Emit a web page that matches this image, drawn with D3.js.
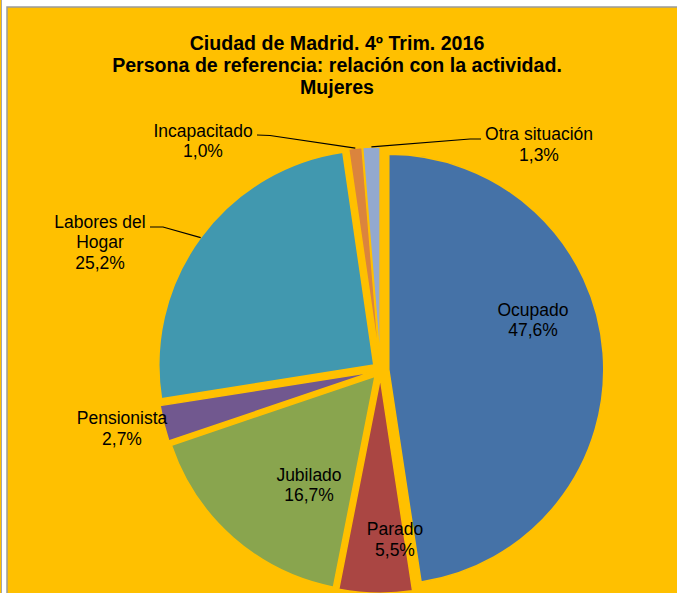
<!DOCTYPE html>
<html>
<head>
    <script src="https://cdn.jsdelivr.net/npm/d3@7"></script>
    <style>
        html, body {
            padding: 0;
            margin: 0;
            background: #ffffff;
        }
    </style>
</head>
<body>
<script>
    var width = 677, height = 593;

    // data
    var categories = ["Ocupado", "Parado", "Jubilado", "Pensionista", "Labores del Hogar", "Incapacitado", "Otra situación"];
    var values = [47.6, 5.5, 16.7, 2.7, 25.2, 1.0, 1.3];
    var labelLines = [["Ocupado"], ["Parado"], ["Jubilado"], ["Pensionista"], ["Labores del", "Hogar"], ["Incapacitado"], ["Otra situación"]];
    var titleLines = ["Ciudad de Madrid. 4º Trim. 2016", "Persona de referencia: relación con la actividad.", "Mujeres"];

    var colors = ["#4572A7", "#AA4643", "#89A54E", "#71588F", "#4198AF", "#DB843D", "#93A9CF"];

    // label layout (x centre, baseline of first line, leader elbow if any)
    var labelLayout = [
        {x: 533, y: 315.5},
        {x: 395, y: 535},
        {x: 309, y: 480.5},
        {x: 122, y: 424},
        {x: 100, y: 227.5, elbow: [163, 227], anchor: [150, 227]},
        {x: 203, y: 136.5, elbow: [270, 135.5], anchor: [257, 135]},
        {x: 539, y: 140, elbow: [470, 139], anchor: [481, 139]}
    ];

    var cx = 380.5, cy = 370, radius = 215, explode = 8.3;
    var orange = "#FFC000";

    var svg = d3.select("body").append("svg")
        .attr("width", width)
        .attr("height", height);

    // chart frame
    svg.append("rect").attr("x", 0).attr("y", 0).attr("width", 1).attr("height", height).attr("fill", orange);
    svg.append("rect").attr("x", 1).attr("y", 0).attr("width", 1).attr("height", height).attr("fill", "#a6a6a6");
    svg.append("rect")
        .attr("x", 7).attr("y", 7)
        .attr("width", width).attr("height", height)
        .attr("fill", orange)
        .attr("stroke", "#9a9a9a")
        .attr("stroke-width", 1.5);

    // title
    svg.append("text")
        .attr("text-anchor", "middle")
        .style("font-family", "'Liberation Sans', Arial, sans-serif")
        .style("font-weight", "bold")
        .style("font-size", "19.6px")
        .attr("fill", "#000")
        .selectAll("tspan")
        .data(titleLines)
        .join("tspan")
        .attr("x", 337)
        .attr("y", function (d, i) { return 50 + i * 22; })
        .text(function (d) { return d; });

    var pie = d3.pie().sort(null).value(function (d) { return d; });
    var arcs = pie(values);

    var arc = d3.arc().innerRadius(0).outerRadius(radius);
    var edge = d3.arc().innerRadius(radius + explode).outerRadius(radius + explode);

    var g = svg.append("g").attr("transform", "translate(" + cx + "," + cy + ")");

    // exploded slices
    g.selectAll("path.slice")
        .data(arcs)
        .join("path")
        .attr("class", "slice")
        .attr("d", arc)
        .attr("fill", function (d, i) { return colors[i]; })
        .attr("stroke", orange)
        .attr("stroke-width", 1.5)
        .attr("stroke-linejoin", "round")
        .attr("transform", function (d) {
            var a = (d.startAngle + d.endAngle) / 2;
            return "translate(" + (Math.sin(a) * explode) + "," + (-Math.cos(a) * explode) + ")";
        });

    // leader lines
    arcs.forEach(function (d, i) {
        var l = labelLayout[i];
        if (!l.elbow) return;
        var p = edge.centroid(d);
        var pts = [[p[0] + cx, p[1] + cy], l.elbow, l.anchor];
        svg.append("path")
            .attr("d", d3.line()(pts))
            .attr("fill", "none")
            .attr("stroke", "#000")
            .attr("stroke-width", 1.2);
    });

    // data labels
    arcs.forEach(function (d, i) {
        var l = labelLayout[i];
        var lines = labelLines[i].concat([d3.format(".1f")(values[i]).replace(".", ",") + "%"]);
        svg.append("text")
            .attr("text-anchor", "middle")
            .style("font-family", "'Liberation Sans', Arial, sans-serif")
            .style("font-size", "17.5px")
            .attr("fill", "#000")
            .selectAll("tspan")
            .data(lines)
            .join("tspan")
            .attr("x", l.x)
            .attr("y", function (t, j) { return l.y + j * 20.8; })
            .text(function (t) { return t; });
    });
</script>
</body>
</html>
